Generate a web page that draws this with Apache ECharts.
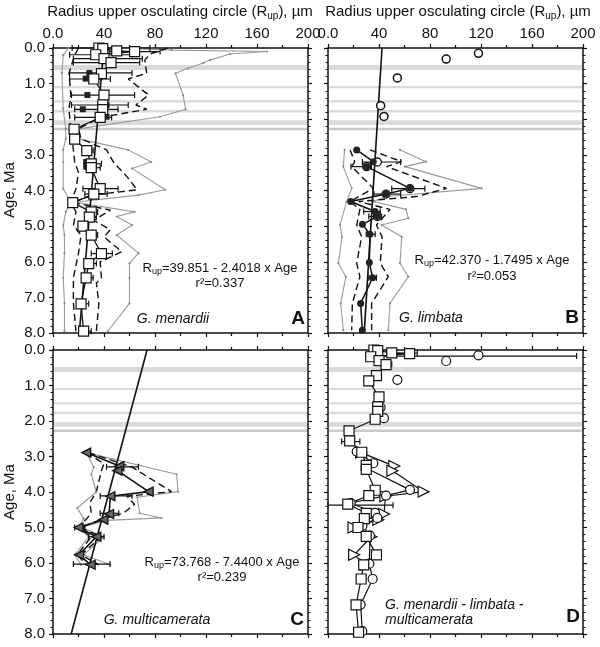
<!DOCTYPE html>
<html><head><meta charset="utf-8">
<script src="https://cdn.jsdelivr.net/npm/echarts@6.0.0/dist/echarts.min.js"></script>
<style>html,body{margin:0;padding:0;background:#fff}#c{width:600px;height:647px}</style>
</head><body><div id="c"></div>
<script>
// ---------- DATA (R_up in µm, Age in Ma) ----------
// grey bands (age ranges)
const BAND_LO = [0.48, 1.07, 1.47, 1.74, 2.03, 2.24];
const BAND_HI = [0.62, 1.13, 1.53, 1.81, 2.16, 2.31];

// Panel A – G. menardii
const A_meanAge = [0.00,0.02,0.08,0.10,0.19,0.30,0.41,0.72,0.87,1.32,1.60,1.73,1.95,2.28,2.56,2.88,3.25,3.36,3.95,4.10,4.34,4.60,4.75,5.00,5.25,5.77,6.05,6.45,7.18,7.95];
const A_meanR   = [36,39,50,64,33.5,40,45.5,38,32,40,39,39,37,16.5,17,26.5,30,30,37,32,15.5,30,28.5,23.5,30,38,28,26,22,24];
const A_medAge  = [0.10,0.41,0.70,0.86,1.32,1.60,1.72,1.93,2.27,2.55,2.88,3.20,3.33,4.00,4.33,4.98,5.25,6.04,6.44,7.17,7.94];
const A_medR    = [64,45.5,28.5,25.6,27,42,23.4,42,15,16,26,26,26,35,15,23,30,28.5,26,21.7,24];
const A_errAge  = [0.00,0.10,0.19,0.30,0.41,0.70,0.87,1.32,1.60,1.72,1.95,2.28,2.56,2.88,3.25,3.36,3.95,4.10,4.60,4.75,5.00,5.25,5.77,6.05,6.45,7.18,7.95];
const A_errLo   = [15,44,13,16,16,13,13,14.5,14.5,17,17,13,13,23,26,26,23.5,25,26,27,20,27,30,26,23.5,21,22];
const A_errHi   = [76,84,62,70,68,62,45,64,59,51,46,20,20,31.5,38,37,51,42.5,35,34,27,35,46.5,34,31.5,28,30];
const A_maxAge  = [0.00,0.06,0.10,0.17,0.34,0.42,0.57,0.71,1.32,1.72,1.93,2.27,2.55,2.86,3.20,3.38,3.98,4.13,4.33,4.60,4.73,4.97,5.25,5.76,6.05,6.45,7.17,7.95];
const A_maxR    = [50,93,168,139,123,118,106,96,102,104,84,20,20,59,77,62,88,67,17,64,50,62,50,67,60,60,60,43];
const A_minAge  = [0.00,0.20,0.70,1.70,2.27,2.55,2.86,3.20,3.95,4.33,4.60,4.98,5.25,5.76,6.45,7.17,7.95];
const A_minR    = [12,8,7,8,10,10,8,8,8,14,10,8,9,9,8,9,9];
const A_dmaxAge = [0.00,0.17,0.34,0.71,0.87,1.32,1.60,1.72,1.95,2.27,2.55,2.86,3.24,3.38,3.61,3.98,4.12,4.33,4.55,4.84,5.10,5.30,5.72,6.00,6.45,6.60,7.17,7.95];
const A_dmaxR   = [90,76,72,73.5,59,75,65,73.5,37,20,22,42,48,52,58,66,33,15,45,32,45,40,54,37,38,34,36,34];
const A_dminAge = [0.00,0.20,0.71,1.32,1.72,2.27,2.86,3.20,3.50,3.95,4.33,4.60,4.98,5.25,5.76,6.45,7.17,7.95];
const A_dminR   = [20,17,12.5,14,12.5,14,16,17,20,18,14,18,16,22,20,16,16,18];
const A_fit = [39.851, -2.4018];

// Panel B – G. limbata
const B_topAge  = [0.15,0.31,0.84,1.62,1.92];
const B_topR    = [118,92.7,54.4,41.3,43.9];
const B_meanAge = [2.86,3.19,3.33,3.94,4.10,4.31,4.59,4.73,4.95,5.23,6.02,6.45,7.17,7.92];
const B_meanR   = [22.5,35.5,30.3,64.3,45.5,17.8,36.9,38.7,27,32.9,32.4,35,25.6,26.9];
const B_openAge = [3.20,3.33,3.95,4.10,4.73];
const B_openR   = [38.7,30.3,64.3,45.5,38.7];
const B_errAge  = [3.20,3.33,3.95,4.10,4.59,4.73,5.23,6.45];
const B_errLo   = [27,18,50,36,28,32,30,32];
const B_errHi   = [57,34,76,57,41,42,37,38];
const B_maxAge  = [2.86,3.19,3.33,3.94,4.17,4.31,4.53,4.78,4.97,5.30,6.04,6.42,7.17,7.92];
const B_maxR    = [56.5,76.9,60.4,120.5,46,35.6,61.2,63,42,57.8,56.5,63,48.6,47.3];
const B_minAge  = [2.86,3.33,3.94,4.31,4.97,5.30,6.04,6.42,7.17,7.92];
const B_minR    = [13,12,18.6,14.6,9.4,11,8.1,14,10,12];
const B_dmaxAge = [2.86,3.19,3.33,3.94,4.17,4.31,4.53,4.97,5.30,6.04,6.42,7.17,7.92];
const B_dmaxR   = [33,57.8,46,93,69.5,24,48.6,38,42.4,41,47.3,34.2,34.2];
const B_dminAge = [2.86,3.19,3.33,3.94,4.31,4.53,4.97,5.30,6.04,6.42,7.17,7.92];
const B_dminR   = [17.3,21,18.6,35.6,17.3,25,22.5,26.4,22.5,25,19.1,18.6];
const B_fit = [42.370, -1.7495];

// Panel C – G. multicamerata
const C_meanAge = [2.89,3.27,3.40,3.99,4.12,4.62,4.78,5.00,5.26,5.77,6.05];
const C_meanR   = [26,52,50.5,75,45,44,39.5,20,34,20.5,29.5];
const C_errAge  = [3.29,4.11,4.60,5.00,5.26,6.03];
const C_errLo   = [42,37,37,17,28,16];
const C_errHi   = [67,62,51.6,25,40,44.7];
const C_maxAge  = [2.89,3.50,3.99,4.15,4.60,4.73,4.80,5.00,5.26,5.77,6.05];
const C_maxR    = [26,97,98,66,68,85,42,22,40,24,45];
const C_minAge  = [2.89,3.30,3.50,4.00,4.45,4.75,5.00,5.26,5.77,6.05];
const C_minR    = [26,32,30,34,19,24,20,28,17,22];
const C_dmaxAge = [2.89,3.30,3.99,4.12,4.35,4.60,4.77,5.00,5.26,5.77,6.05];
const C_dmaxR   = [28,62,93,58,64,55,38,21,38,22,36];
const C_dminAge = [2.89,3.20,3.40,3.99,4.30,4.60,4.77,5.00,5.26,5.77,6.05];
const C_dminR   = [26,40,38,34,29,30,26,20,30,19,26];
const C_fit = [73.768, -7.4400];

// Panel D – error bars on the combined plot
const D_errAge = [0.09,0.17,0.40,2.58,4.37];
const D_errLo  = [46,38,42,10.7,0];
const D_errHi  = [70,195,50,25,51];

// axis ticks
const X_MIN = 0, X_MAX = 200, X_STEP = 40;
const Y_MIN = 0, Y_MAX = 8, Y_STEP = 1;

// ---------- CHART ----------
const FONT = '"Liberation Sans", Arial, Helvetica, sans-serif';
const INK = '#111';
const GRIDS = [
  {left:53, top:48, width:255, height:285},
  {left:328, top:48, width:255, height:285},
  {left:53, top:350, width:255, height:284},
  {left:328, top:350, width:255, height:284}
];
const pairs = (ages, rs) => ages.map((a,i)=>[rs[i], a]);
const errs = (ages, lo, hi) => ages.map((a,i)=>[a, lo[i], hi[i]]);

const xAxes = [], yAxes = [];
GRIDS.forEach((g,i)=>{
  ['top','bottom'].forEach((pos,k)=>{
    xAxes.push({gridIndex:i, type:'value', position:pos, min:X_MIN, max:X_MAX, interval:X_STEP,
      axisLine:{show:true, onZero:false, lineStyle:{color:INK, width:1.5}},
      axisTick:{show:true, length:4, lineStyle:{color:INK, width:1.2}},
      minorTick:{show:true, splitNumber:2, length:3, lineStyle:{color:INK, width:1.2}},
      splitLine:{show:false},
      axisLabel:{show:(k===0 && i<2), margin:7, fontFamily:FONT, fontSize:15, color:'#111',
        formatter:v=> v===0 ? '0.0' : String(v)}});
  });
  ['left','right'].forEach((pos,k)=>{
    yAxes.push({gridIndex:i, type:'value', position:pos, inverse:true, min:Y_MIN, max:Y_MAX, interval:Y_STEP,
      axisLine:{show:true, onZero:false, lineStyle:{color:INK, width:1.5}},
      axisTick:{show:true, length:4, lineStyle:{color:INK, width:1.2}},
      minorTick:{show:true, splitNumber:5, length:2.5, lineStyle:{color:INK, width:1}},
      splitLine:{show:false},
      axisLabel:{show:(k===0 && i%2===0), margin:8, fontFamily:FONT, fontSize:15, color:'#111',
        formatter:v=> v.toFixed(1)}});
  });
});

const series = [];
function ln(g, data, o){
  series.push(Object.assign({type:'line', xAxisIndex:2*g, yAxisIndex:2*g, data, animation:false, silent:true,
    symbol:'none', clip:true,
    lineStyle:{color:o.color||INK, width:o.width||1.2, type:o.dash||'solid'},
    itemStyle:{color:o.fill||INK, borderColor:o.border||INK, borderWidth:o.bw||0}, z:o.z||3}, o.extra||{}));
}
function sc(g, data, o){
  series.push({type:'scatter', xAxisIndex:2*g, yAxisIndex:2*g, data, animation:false, silent:true,
    symbol:o.symbol, symbolSize:o.size, symbolRotate:o.rot||0,
    itemStyle:{color:o.fill, borderColor:o.border||INK, borderWidth:o.bw||0, opacity:1}, z:o.z||6});
}
function eb(g, data){
  series.push({type:'custom', xAxisIndex:2*g, yAxisIndex:2*g, data, animation:false, silent:true, z:4,
    encode:{x:[1,2], y:0},
    renderItem:(p, api)=>{
      const a=api.value(0), p1=api.coord([api.value(1),a]), p2=api.coord([api.value(2),a]);
      const s={stroke:INK, lineWidth:1.2};
      return {type:'group', children:[
        {type:'line', shape:{x1:p1[0],y1:p1[1],x2:p2[0],y2:p2[1]}, style:s},
        {type:'line', shape:{x1:p1[0],y1:p1[1]-3,x2:p1[0],y2:p1[1]+3}, style:s},
        {type:'line', shape:{x1:p2[0],y1:p2[1]-3,x2:p2[0],y2:p2[1]+3}, style:s}]};
    }});
}
function bands(g){
  series.push({type:'custom', xAxisIndex:2*g, yAxisIndex:2*g, animation:false, silent:true, z:0,
    data: BAND_LO.map((lo,i)=>[lo, BAND_HI[i], i]), encode:{y:[0,1]},
    renderItem:(p, api)=>{
      const c1=api.coord([X_MIN, api.value(0)]), c2=api.coord([X_MAX, api.value(1)]);
      const last = api.value(2) === BAND_LO.length-1;
      return {type:'rect', shape:{x:c1[0]+1, y:c1[1], width:c2[0]-c1[0]-2, height:c2[1]-c1[1]},
        style:{fill: last ? '#c9c9c9' : '#dadada'}};
    }});
}
function fit(g, f){
  ln(g, [[f[0]+f[1]*Y_MIN, Y_MIN],[f[0]+f[1]*Y_MAX, Y_MAX]], {width:1.6, z:5});
}
const GREY = {color:'#9a9a9a', width:1.1, extra:{symbol:'circle', symbolSize:2.2, itemStyle:{color:'#8a8a8a'}}, z:2};
const DASH = {color:INK, width:1.4, dash:[7,4], z:2};

// Panel A
bands(0);
ln(0, pairs(A_maxAge, A_maxR), GREY);
ln(0, pairs(A_minAge, A_minR), GREY);
ln(0, pairs(A_dmaxAge, A_dmaxR), DASH);
ln(0, pairs(A_dminAge, A_dminR), DASH);
eb(0, errs(A_errAge, A_errLo, A_errHi));
fit(0, A_fit);
ln(0, pairs(A_meanAge, A_meanR), {width:1.3, z:5});
sc(0, pairs(A_medAge, A_medR), {symbol:'rect', size:6, fill:'#222', z:6});
sc(0, pairs(A_meanAge, A_meanR), {symbol:'rect', size:10, fill:'#fff', bw:1.2, z:7});

// Panel B
bands(1);
ln(1, pairs(B_maxAge, B_maxR), GREY);
ln(1, pairs(B_minAge, B_minR), GREY);
ln(1, pairs(B_dmaxAge, B_dmaxR), DASH);
ln(1, pairs(B_dminAge, B_dminR), DASH);
eb(1, errs(B_errAge, B_errLo, B_errHi));
fit(1, B_fit);
ln(1, pairs(B_meanAge, B_meanR), {width:1.5, z:5});
sc(1, pairs(B_openAge, B_openR), {symbol:'circle', size:8, fill:'#fff', bw:1.3, z:6});
sc(1, pairs(B_meanAge, B_meanR), {symbol:'circle', size:7, fill:'#222', z:7});
sc(1, pairs(B_topAge, B_topR), {symbol:'circle', size:8, fill:'#fff', bw:1.5, z:7});

// Panel C
bands(2);
ln(2, pairs(C_maxAge, C_maxR), GREY);
ln(2, pairs(C_minAge, C_minR), GREY);
ln(2, pairs(C_dmaxAge, C_dmaxR), DASH);
ln(2, pairs(C_dminAge, C_dminR), DASH);
eb(2, errs(C_errAge, C_errLo, C_errHi));
fit(2, C_fit);
ln(2, pairs(C_meanAge, C_meanR), {width:1.6, z:5});
sc(2, pairs(C_meanAge, C_meanR), {symbol:'triangle', size:9, rot:90, fill:'#666', bw:1.3, z:7});

// Panel D
bands(3);
eb(3, errs(D_errAge, D_errLo, D_errHi));
ln(3, pairs(A_meanAge, A_meanR), {width:1.2, z:5});
ln(3, pairs(B_meanAge, B_meanR), {width:1.2, z:5});
ln(3, pairs(C_meanAge, C_meanR), {width:1.2, z:5});
sc(3, pairs(C_meanAge, C_meanR), {symbol:'triangle', size:11, rot:-90, fill:'#fff', bw:1.2, z:6});
sc(3, pairs(B_meanAge, B_meanR), {symbol:'circle', size:9, fill:'#fff', bw:1.2, z:7});
sc(3, pairs(B_topAge, B_topR), {symbol:'circle', size:9, fill:'#fff', bw:1.2, z:7});
sc(3, pairs(A_meanAge, A_meanR), {symbol:'rect', size:10, fill:'#fff', bw:1.2, z:8});

// ---------- TEXT ----------
const mctx = document.createElement('canvas').getContext('2d');
function tw(t, font){ mctx.font = font; return mctx.measureText(t).width; }
function txt(x, y, text, o){
  o = o||{};
  return {type:'text', x, y, rotation:o.rot||0, silent:true, z:20,
    style:{text, font:o.font||('15px '+FONT), fill:'#111',
      align:o.align||'center', verticalAlign:'middle', textAlign:o.align||'center', textVerticalAlign:'middle'}};
}
// text made of pieces [text, fontSize, dy], centred on (cx, cy)
function pieces(cx, cy, parts){
  const fonts = parts.map(p=>p[1]+'px '+FONT);
  const widths = parts.map((p,i)=>tw(p[0], fonts[i]));
  let x = cx - widths.reduce((a,b)=>a+b,0)/2;
  return parts.map((p,i)=>{
    const el = {type:'text', x, y:cy + p[2], silent:true, z:20,
      style:{text:p[0], font:fonts[i], fill:'#111', align:'left', verticalAlign:'middle', textAlign:'left', textVerticalAlign:'middle'}};
    x += widths[i];
    return el;
  });
}
const title = cx => pieces(cx, 12, [['Radius upper osculating circle (R',15,0],['up',10,4],['), µm',15,0]]);
const eq = (cx, cy, f) => pieces(cx, cy, [['R',13,0],['up',9,3.5],['='+f[0].toFixed(3)+' - '+(-f[1]).toFixed(4)+' x Age',13,0]]);
const graphic = [].concat(
  title(180), title(458),
  eq(220, 268, A_fit), eq(492, 260, B_fit), eq(222, 562, C_fit),
  [
  txt(10, 190, 'Age, Ma', {rot:Math.PI/2}), txt(10, 492, 'Age, Ma', {rot:Math.PI/2}),
  txt(220, 283, 'r²=0.337', {font:'13px '+FONT}),
  txt(173, 319, 'G. menardii', {font:'italic 14px '+FONT}), txt(298, 319, 'A', {font:'bold 19px '+FONT}),
  txt(492, 276, 'r²=0.053', {font:'13px '+FONT}),
  txt(431, 318, 'G. limbata', {font:'italic 14px '+FONT}), txt(572, 318, 'B', {font:'bold 19px '+FONT}),
  txt(222, 577, 'r²=0.239', {font:'13px '+FONT}),
  txt(157, 620, 'G. multicamerata', {font:'italic 14px '+FONT}), txt(297, 620, 'C', {font:'bold 19px '+FONT}),
  txt(385, 605, 'G. menardii - limbata -', {font:'italic 14px '+FONT, align:'left'}),
  txt(385, 620, 'multicamerata', {font:'italic 14px '+FONT, align:'left'}),
  txt(573, 617, 'D', {font:'bold 19px '+FONT})
  ]);

const chart = echarts.init(document.getElementById('c'), null, {renderer:'canvas'});
chart.setOption({animation:false, backgroundColor:'#fff', grid:GRIDS, xAxis:xAxes, yAxis:yAxes, series, graphic});
</script></body></html>
